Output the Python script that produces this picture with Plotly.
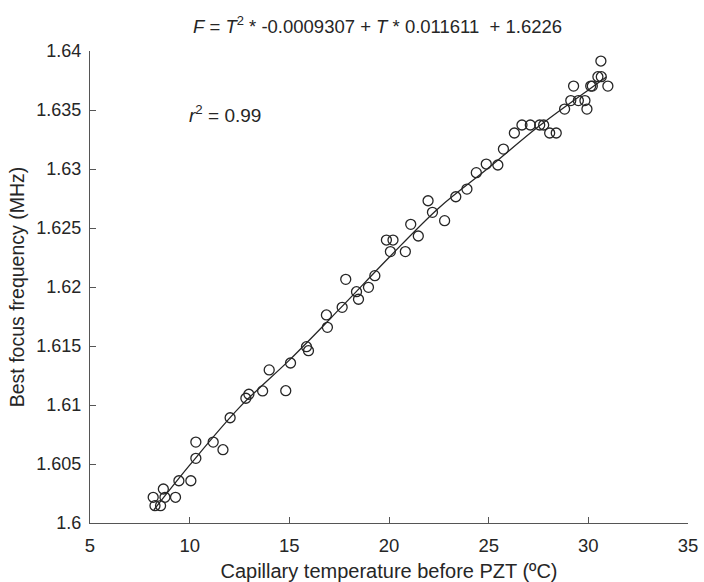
import plotly.graph_objects as go

# Measured points (temperature °C, best focus frequency MHz)
temp = [8.17, 8.26, 8.54, 8.68, 8.76, 9.29, 9.46, 10.06, 10.31, 10.31,
        11.18, 11.67, 12.03, 12.82, 12.97, 13.66, 13.99, 14.82, 15.06, 15.86,
        15.96, 16.86, 16.91, 17.65, 17.83, 18.37, 18.47, 18.97, 19.29, 19.87,
        20.2, 20.07, 20.82, 21.09, 21.47, 21.96, 22.18, 22.79, 23.35, 23.91,
        24.38, 24.88, 25.46, 25.74, 26.29, 26.67, 27.09, 27.56, 27.76, 28.06,
        28.39, 28.81, 29.12, 29.26, 29.5, 29.83, 29.93, 30.12, 30.2, 30.48,
        30.63, 30.65, 30.98]
freq = [1.60218, 1.60147, 1.60147, 1.60288, 1.60218, 1.60218, 1.60358, 1.60358, 1.60548, 1.60686,
        1.60686, 1.60621, 1.60892, 1.61057, 1.61091, 1.61119, 1.61297, 1.61121, 1.61356, 1.61494,
        1.6146, 1.61763, 1.61658, 1.61828, 1.62065, 1.6196, 1.61896, 1.61997, 1.62096, 1.62398,
        1.62398, 1.623, 1.623, 1.62531, 1.62432, 1.62731, 1.62633, 1.62562, 1.62765, 1.6283,
        1.62969, 1.63042, 1.63034, 1.63169, 1.63305, 1.63373, 1.63373, 1.63373, 1.63373, 1.63305,
        1.63305, 1.63508, 1.6358, 1.63703, 1.6358, 1.6358, 1.63508, 1.63703, 1.63703, 1.63782,
        1.63915, 1.63782, 1.63703]

# Fitted curve
fit_t = [8.2, 10, 12.5, 15, 17.5, 20, 22.5, 25, 27.5, 30, 30.9]
fit_f = [1.6011, 1.6049, 1.6098, 1.6138, 1.6181, 1.6225, 1.6267, 1.6301, 1.6336, 1.6367, 1.6378]

x_ticks = [5, 10, 15, 20, 25, 30, 35]
y_ticks = [1.6, 1.605, 1.61, 1.615, 1.62, 1.625, 1.63, 1.635, 1.64]
y_ticklabels = ["1.6", "1.605", "1.61", "1.615", "1.62", "1.625", "1.63", "1.635", "1.64"]

title_text = "<i>F</i> = <i>T</i><sup>2</sup> * -0.0009307 + <i>T</i> * 0.011611  + 1.6226"
r2_text = "<i>r</i><sup>2</sup> = 0.99"

font_family = "Liberation Sans, Arial, sans-serif"
ink = "#262626"

fig = go.Figure()
fig.add_trace(go.Scatter(x=fit_t, y=fit_f, mode="lines", line=dict(color=ink, width=1.3, shape="spline"),
                         hoverinfo="skip", showlegend=False))
fig.add_trace(go.Scatter(x=temp, y=freq, mode="markers",
                         marker=dict(symbol="circle-open", size=10, color=ink, line=dict(width=1.3, color=ink)),
                         showlegend=False))

fig.update_layout(
    width=704, height=582,
    margin=dict(l=90, r=16, t=51, b=59),
    paper_bgcolor="white", plot_bgcolor="white",
    font=dict(family=font_family, color=ink, size=18),
    showlegend=False,
    annotations=[
        dict(text=title_text, x=0.48, y=1.0, xref="paper", yref="paper", xanchor="center", yanchor="bottom",
             yshift=12, showarrow=False, font=dict(size=18.5, color=ink)),
        dict(text=r2_text, x=9.85, y=1.6347, xref="x", yref="y", xanchor="left", yanchor="middle",
             showarrow=False, font=dict(size=19, color=ink)),
    ],
)
fig.update_xaxes(range=[5, 35], tickvals=x_ticks, ticks="inside", ticklen=6, tickcolor="#555",
                 showline=True, linecolor="#555", linewidth=1.2, showgrid=False, zeroline=False,
                 automargin=False, ticklabelstandoff=6,
                 title=dict(text="Capillary temperature before PZT (ºC)", standoff=10, font=dict(size=20)),
                 tickfont=dict(size=18.5))
fig.update_yaxes(range=[1.6, 1.64], tickvals=y_ticks, ticktext=y_ticklabels, ticks="inside", ticklen=6,
                 tickcolor="#555", showline=True, linecolor="#555", linewidth=1.2, showgrid=False, zeroline=False,
                 automargin=False,
                 title=dict(text="Best focus frequency (MHz)", standoff=6, font=dict(size=19.5)),
                 tickfont=dict(size=18), ticklabelstandoff=4)

fig.write_html("out.html", config={"displayModeBar": False},
               post_script="document.body.style.margin='0';document.body.style.padding='0';")
